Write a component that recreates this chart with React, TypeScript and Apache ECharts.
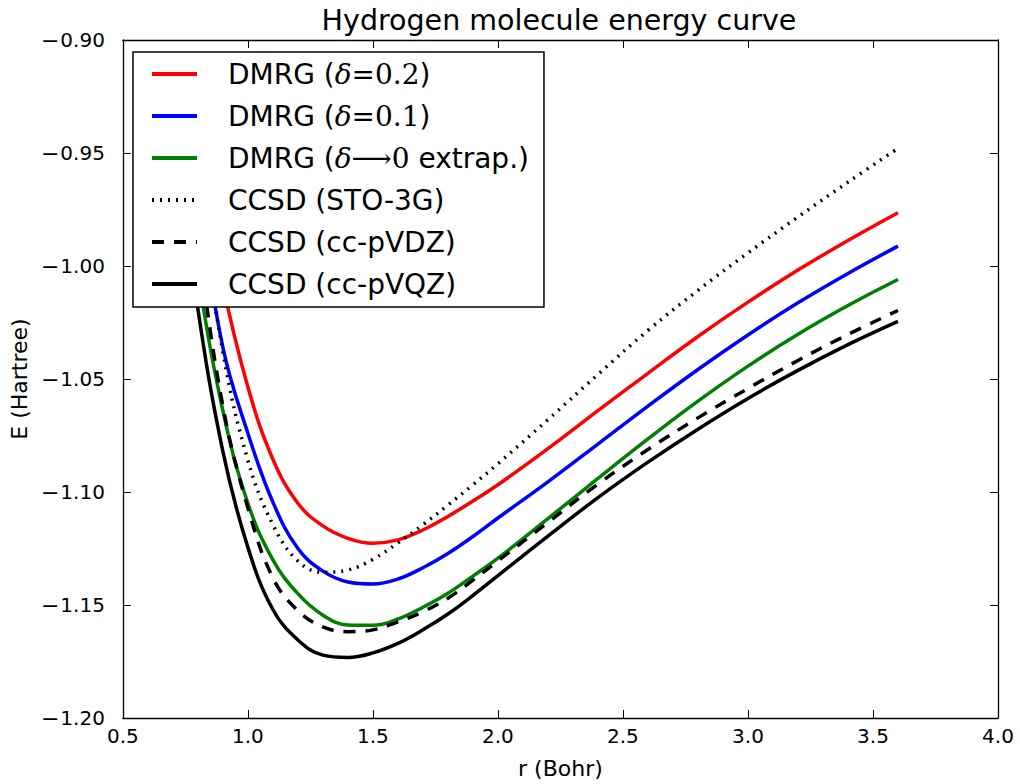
import React, { useEffect, useRef } from "react";
import * as echarts from "echarts";

// Bond length r (Bohr)
const rValues = [0.75, 0.8, 0.9, 1.0, 1.1, 1.2, 1.3, 1.4, 1.5, 1.6, 1.7, 1.8, 1.9, 2.0, 2.2, 2.4, 2.6, 2.8, 3.0, 3.2, 3.4, 3.6];

// Energies (Hartree)
const dmrg02 = [-0.91, -0.945, -1.008, -1.0535, -1.0855, -1.105, -1.115, -1.1205, -1.1227, -1.1212, -1.1168, -1.1108, -1.104, -1.0968, -1.0808, -1.064, -1.0475, -1.0312, -1.016, -1.0018, -0.9887, -0.9764];
const dmrg01 = [-0.925, -0.968, -1.036, -1.074, -1.1045, -1.125, -1.135, -1.1398, -1.1407, -1.1385, -1.1335, -1.1272, -1.1197, -1.1115, -1.0955, -1.0788, -1.062, -1.0458, -1.0305, -1.0163, -1.0033, -0.9912];
const dmrgExtrap = [-0.958, -1.003, -1.064, -1.105, -1.13, -1.145, -1.1545, -1.1588, -1.159, -1.1562, -1.151, -1.1448, -1.1372, -1.1293, -1.1118, -1.094, -1.0765, -1.0598, -1.0443, -1.0302, -1.0175, -1.006];
const ccsdSto3g = [-0.915, -0.962, -1.038, -1.086, -1.1145, -1.1305, -1.1355, -1.1345, -1.1298, -1.1225, -1.1145, -1.1058, -1.0968, -1.0875, -1.068, -1.048, -1.0285, -1.0108, -0.9942, -0.9783, -0.9629, -0.9479];
const ccsdVdz = [-0.95, -0.99, -1.062, -1.107, -1.138, -1.1525, -1.1597, -1.1618, -1.161, -1.1575, -1.153, -1.147, -1.139, -1.1305, -1.1135, -1.0965, -1.0812, -1.0672, -1.0542, -1.0418, -1.0303, -1.0197];
const ccsdVqz = [-0.972, -1.019, -1.082, -1.1245, -1.152, -1.1655, -1.1722, -1.1732, -1.1712, -1.167, -1.161, -1.154, -1.1458, -1.137, -1.1195, -1.1025, -1.0868, -1.0722, -1.0586, -1.0462, -1.0348, -1.0245];

const seriesNames = [
  "DMRG (δ=0.2)",
  "DMRG (δ=0.1)",
  "DMRG (δ⟶0 extrap.)",
  "CCSD (STO-3G)",
  "CCSD (cc-pVDZ)",
  "CCSD (cc-pVQZ)",
];

const legendRich: Record<string, string> = {
  "DMRG (δ=0.2)": "{sp|}{a|DMRG (}{i|δ}{m|=0.2}{a|)}",
  "DMRG (δ=0.1)": "{sp|}{a|DMRG (}{i|δ}{m|=0.1}{a|)}",
  "DMRG (δ⟶0 extrap.)": "{sp|}{a|DMRG (}{i|δ}{m|⟶0}{a| extrap.)}",
  "CCSD (STO-3G)": "{sp|}{a|CCSD (STO-3G)}",
  "CCSD (cc-pVDZ)": "{sp|}{a|CCSD (cc-pVDZ)}",
  "CCSD (cc-pVQZ)": "{sp|}{a|CCSD (cc-pVQZ)}",
};

const FONT = "DejaVu Sans";
const LF = 28;

export default function App() {
  const ref = useRef<HTMLDivElement>(null);
  useEffect(() => {
    if (!ref.current) return;
    const chart = echarts.init(ref.current, undefined, { renderer: "svg" });
    const mk = (arr: number[]) => rValues.map((r, i) => [r, arr[i]]);
    const allData = [dmrg02, dmrg01, dmrgExtrap, ccsdSto3g, ccsdVdz, ccsdVqz];
    const styles = [
      { color: "#ff0000", type: "solid" as any },
      { color: "#0000ff", type: "solid" as any },
      { color: "#008000", type: "solid" as any },
      { color: "#000000", type: [2, 6] as any },
      { color: "#000000", type: [12, 10] as any },
      { color: "#000000", type: "solid" as any },
    ];
    const fmtY = (v: number) =>
      v < 0 ? `{mi|\u2212}{d|${Math.abs(v).toFixed(2)}}` : `{d|${v.toFixed(2)}}`;
    const fmtX = (v: number) => v.toFixed(1);
    chart.setOption({
      animation: false,
      backgroundColor: "#ffffff",
      grid: { left: 120, right: 22, top: 40, bottom: 66, containLabel: false },
      graphic: [
        {
          type: "text",
          x: 559,
          y: 20,
          style: {
            text: "Hydrogen molecule energy curve",
            font: `28.5px "${FONT}"`,
            fill: "#000",
            textAlign: "center",
            textVerticalAlign: "middle",
          },
        },
      ],
      legend: {
        data: seriesNames,
        orient: "vertical",
        left: 133,
        top: 52,
        padding: [8, 15, 9, 17],
        itemWidth: 45,
        itemHeight: 14,
        itemGap: 14,
        backgroundColor: "#ffffff",
        borderColor: "#000000",
        borderWidth: 1.5,
        borderRadius: 0,
        z: 10,
        itemStyle: { opacity: 0, borderWidth: 0 },
        lineStyle: { width: 4 },
        formatter: (name: string) => legendRich[name],
        textStyle: {
          fontFamily: FONT,
          fontSize: LF,
          lineHeight: LF,
          color: "#000",
          rich: {
            sp: { width: 26 },
            a: { fontFamily: FONT, fontSize: LF, color: "#000" },
            i: { fontFamily: "DejaVu Serif", fontStyle: "italic", fontSize: LF, color: "#000" },
            m: { fontFamily: "DejaVu Serif", fontSize: LF, color: "#000" },
          },
        },
      },
      xAxis: [
        {
          type: "value",
          min: 0.5,
          max: 4.0,
          interval: 0.5,
          name: "r (Bohr)",
          nameLocation: "middle",
          nameGap: 39,
          nameTextStyle: { fontFamily: FONT, fontSize: 22, color: "#000" },
          axisLine: { show: true, lineStyle: { color: "#000", width: 1.3 } },
          axisTick: { show: true, inside: true, length: 8, lineStyle: { color: "#000", width: 1 } },
          axisLabel: { formatter: fmtX, fontFamily: FONT, fontSize: 20, color: "#000", margin: 8 },
          splitLine: { show: false },
        },
        {
          type: "value",
          position: "top",
          min: 0.5,
          max: 4.0,
          interval: 0.5,
          axisLine: { show: true, lineStyle: { color: "#000", width: 1.3 } },
          axisTick: { show: true, inside: true, length: 8, lineStyle: { color: "#000", width: 1 } },
          axisLabel: { show: false },
          splitLine: { show: false },
        },
      ],
      yAxis: [
        {
          type: "value",
          min: -1.2,
          max: -0.9,
          interval: 0.05,
          name: "E (Hartree)",
          nameLocation: "middle",
          nameGap: 90,
          nameTextStyle: { fontFamily: FONT, fontSize: 22, color: "#000" },
          axisLine: { show: true, onZero: false, lineStyle: { color: "#000", width: 1.3 } },
          axisTick: { show: true, inside: true, length: 8, lineStyle: { color: "#000", width: 1 } },
          axisLabel: {
            formatter: fmtY,
            fontFamily: FONT,
            fontSize: 20,
            color: "#000",
            margin: 18,
            rich: {
              mi: { fontFamily: FONT, fontSize: 22, color: "#000", padding: [0, 1, 0, 0] },
              d: { fontFamily: FONT, fontSize: 20, color: "#000" },
            },
          },
          splitLine: { show: false },
        },
        {
          type: "value",
          position: "right",
          min: -1.2,
          max: -0.9,
          interval: 0.05,
          axisLine: { show: true, onZero: false, lineStyle: { color: "#000", width: 1.3 } },
          axisTick: { show: true, inside: true, length: 8, lineStyle: { color: "#000", width: 1 } },
          axisLabel: { show: false },
          splitLine: { show: false },
        },
      ],
      series: seriesNames.map((name, i) => ({
        name,
        type: "line",
        xAxisIndex: 0,
        yAxisIndex: 0,
        data: mk(allData[i]),
        showSymbol: false,
        symbol: "none",
        smooth: 0.4,
        clip: true,
        z: 2,
        lineStyle: { color: styles[i].color, width: 3.5, type: styles[i].type },
        itemStyle: { color: styles[i].color },
      })),
    });
    return () => chart.dispose();
  }, []);
  return (
    <div
      ref={ref}
      style={{ position: "fixed", left: 0, top: 0, width: 1020, height: 784, background: "#fff" }}
    />
  );
}
